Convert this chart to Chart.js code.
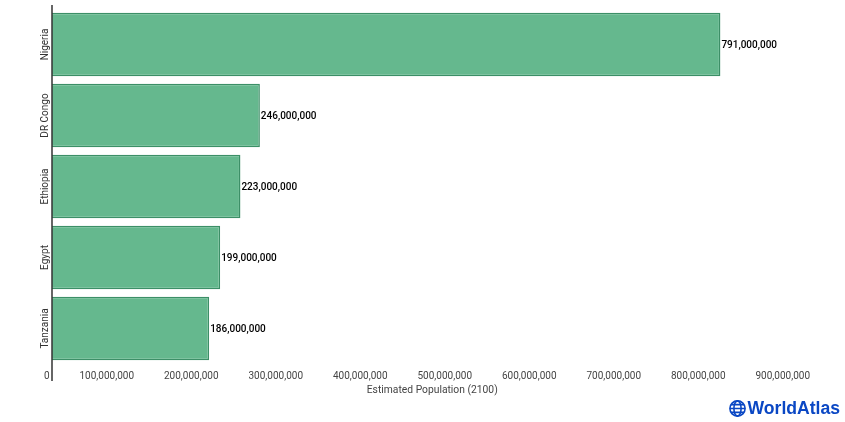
<!DOCTYPE html>
<html><head><meta charset="utf-8">
<script src="https://cdn.jsdelivr.net/npm/chart.js@4/dist/chart.umd.min.js"></script>
<style>
html,body{margin:0;padding:0;background:#fff;width:845px;height:422px;overflow:hidden}
#wrap{position:absolute;left:0;top:0;width:845px;height:422px}
#logo{position:absolute;left:729px;top:399px;height:18px;display:flex;align-items:center;color:#0a47c4;font:700 17.6px "Liberation Sans",sans-serif;line-height:18px}
#logo svg{margin-right:1.5px}
</style></head><body>
<div id="wrap"><canvas id="c" width="845" height="422"></canvas></div>
<div id="logo"><svg width="17" height="17" viewBox="0 0 17 17" fill="none" stroke="#0a47c4" stroke-width="1.6"><circle cx="8.5" cy="8.5" r="7.6"/><ellipse cx="8.5" cy="8.5" rx="3.6" ry="7.6"/><path d="M1 8.5H16M2 4.6H15M2 12.4H15"/></svg><span>WorldAtlas</span></div>
<script>
const categories=["Nigeria","DR Congo","Ethiopia","Egypt","Tanzania"];
const populationValues=[791000000,246000000,223000000,199000000,186000000];
const axisTitle="Estimated Population (2100)";
const valueLabels={id:'valueLabels',afterDatasetsDraw(chart){
  const {ctx,chartArea}=chart;const meta=chart.getDatasetMeta(0);
  ctx.save();
  ctx.strokeStyle='#333';ctx.lineWidth=1.5;ctx.beginPath();
  ctx.moveTo(chartArea.left,chartArea.top-4);ctx.lineTo(chartArea.left,chartArea.bottom+17);ctx.stroke();
  ctx.font='500 10px Roboto';ctx.fillStyle='#000';ctx.textAlign='left';ctx.textBaseline='middle';
  meta.data.forEach((el,i)=>ctx.fillText(populationValues[i].toLocaleString('en-US'),el.x+1,el.y+1));
  ctx.restore();
}};
new Chart(document.getElementById('c'),{
  type:'bar',
  data:{labels:categories,datasets:[{data:populationValues,backgroundColor:'#65b88e',borderColor:'#3c8f67',borderWidth:1.5,barPercentage:1,categoryPercentage:.895}]},
  plugins:[valueLabels],
  options:{indexAxis:'y',responsive:false,animation:false,
    layout:{padding:{left:0,top:9,right:32.5,bottom:0}},
    plugins:{legend:{display:false},tooltip:{enabled:false}},
    scales:{
      x:{min:0,max:900000000,
        afterFit(s){s.height=58;},
        border:{display:false},
        grid:{display:false},
        ticks:{stepSize:100000000,align:'end',maxRotation:0,autoSkip:false,padding:-2,labelOffset:-2.5,color:'#444',font:{family:'Roboto',size:10},callback:v=>v===0?'0':Number(v).toLocaleString('en-US')},
        title:{display:true,text:axisTitle,color:'#444',font:{family:'Roboto',size:10.3},padding:{top:1,bottom:25}}
      },
      y:{
        afterFit(s){s.width=52;},
        border:{display:false},
        grid:{display:false},
        ticks:{color:'#333',font:{family:'Roboto',size:10},maxRotation:90,minRotation:90,crossAlign:'center',padding:-24}
      }
    }
  }
});
</script></body></html>
